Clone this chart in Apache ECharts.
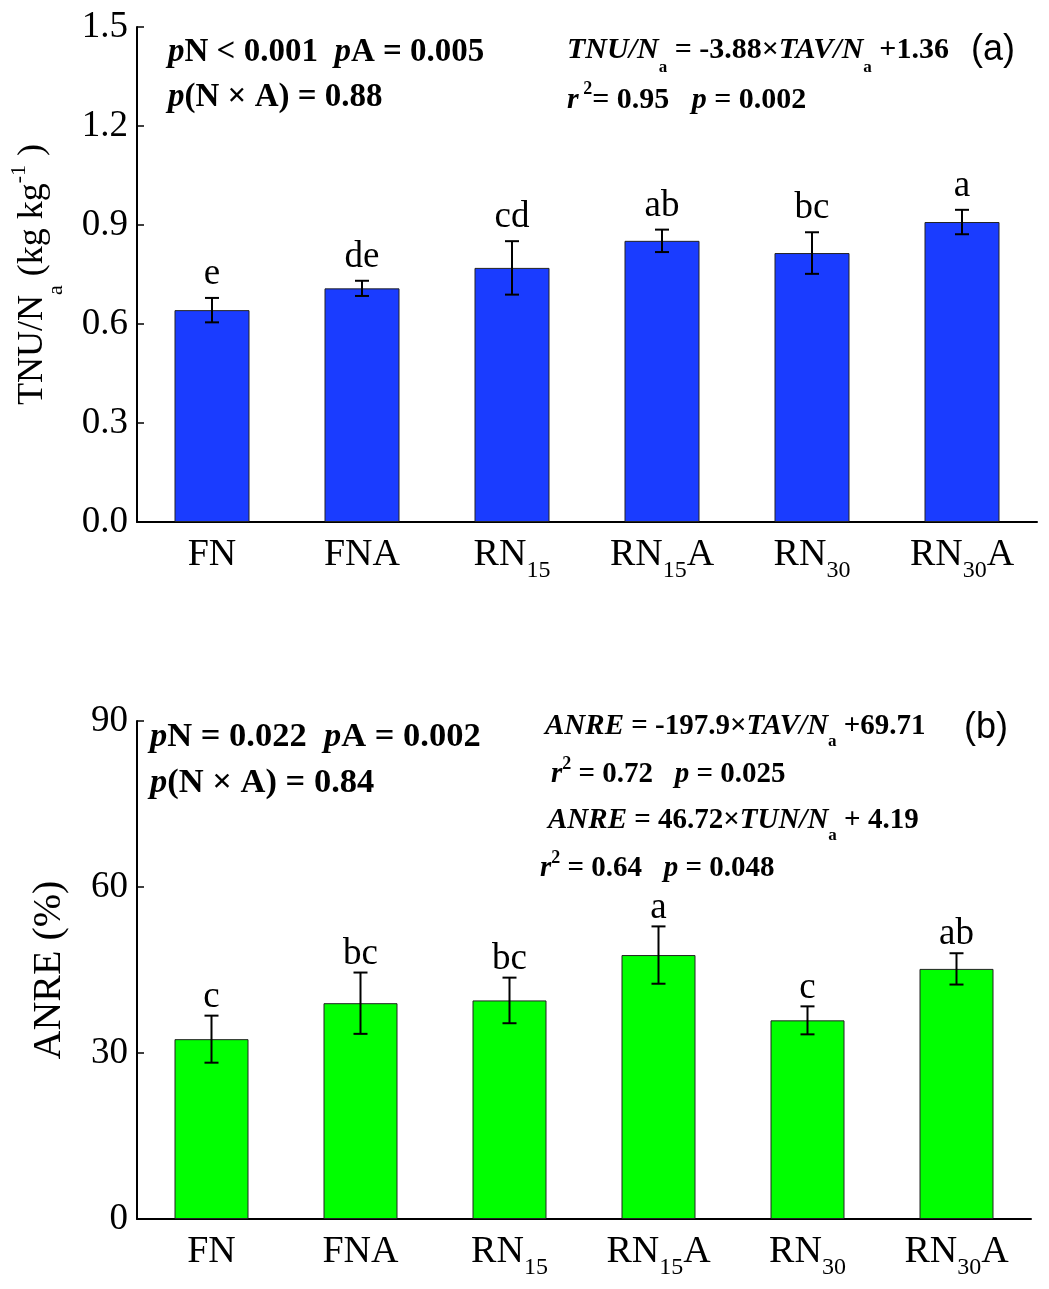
<!DOCTYPE html>
<html>
<head>
<meta charset="utf-8">
<script src="https://cdn.jsdelivr.net/npm/echarts@6/dist/echarts.min.js"></script>
<style>
  html, body { margin: 0; padding: 0; background: #fff; }
  #chart { width: 1049px; height: 1289px; }
</style>
</head>
<body>
<div id="chart"></div>
<script>
// Treatments
const categories = ['FN', 'FNA', 'RN15', 'RN15A', 'RN30', 'RN30A'];

// (a) TNU/Na, kg kg-1: means, standard errors, significance letters
const tnuMean = [0.642, 0.708, 0.770, 0.852, 0.815, 0.909];
const tnuErr = [0.037, 0.023, 0.081, 0.034, 0.063, 0.037];
const tnuLetters = ['e', 'de', 'cd', 'ab', 'bc', 'a'];

// (b) ANRE, %: means, standard errors, significance letters
const anreMean = [32.5, 39.0, 39.5, 47.7, 35.9, 45.2];
const anreErr = [4.25, 5.54, 4.12, 5.18, 2.53, 2.83];
const anreLetters = ['c', 'bc', 'bc', 'a', 'c', 'ab'];

// Axis ranges
const tnuTicks = { min: 0, max: 1.5, interval: 0.3 };
const anreTicks = { min: 0, max: 90, interval: 30 };

const SERIF = '"Liberation Serif", "Times New Roman", serif';
const SANS = '"Liberation Sans", Arial, sans-serif';

// Rich-text styles: every token is top-aligned, and the top padding of a token
// sets where its text centre sits, which gives sub- and superscripts.
function richSet(fs, T, weight, subFs, subOff, supFs, supOff) {
  const c = T + fs / 2;
  const base = { fontFamily: SERIF, fontWeight: weight, color: '#000', fill: '#000', verticalAlign: 'top' };
  return {
    b: Object.assign({}, base, { fontSize: fs, height: fs, padding: [T, 0, 0, 0] }),
    m: Object.assign({}, base, { fontSize: fs, height: fs, padding: [T, 0, 0, 0] }),
    bi: Object.assign({}, base, { fontSize: fs, height: fs, fontStyle: 'italic', padding: [T, 0, 0, 0] }),
    sub: Object.assign({}, base, { fontSize: subFs, height: subFs, padding: [c + subOff - subFs / 2, 0, 0, 0] }),
    sup: Object.assign({}, base, { fontSize: supFs, height: supFs, padding: [Math.max(0, c - supOff - supFs / 2), 0, 0, 0] })
  };
}

// Category names with subscripted rates, e.g. RN15A -> RN{15}A
function catLabel(name) {
  const parts = name.match(/^([A-Z]+?)(\d+)?(A)?$/);
  if (!parts || !parts[2]) return '{m|' + name + '}';
  return '{m|' + parts[1] + '}{sub|' + parts[2] + '}' + (parts[3] ? '{m|' + parts[3] + '}' : '');
}

const catRich = richSet(38, 0, 'normal', 24, 16, 20, 10);
const titleRich = richSet(36, 7, 'normal', 22, 23, 22, 13.5);

function note(x, yc, text, rich, fs, T) {
  return {
    type: 'text', x: x, y: yc - (T + fs / 2), silent: true,
    style: { text: text, rich: rich, align: 'left', verticalAlign: 'top', fill: '#000' }
  };
}
function plain(x, yc, text, fs, family) {
  return {
    type: 'text', x: x, y: yc, silent: true,
    style: { text: text, fontSize: fs, fontFamily: family, fill: '#000', align: 'left', verticalAlign: 'middle' }
  };
}

const leftTopRich = richSet(33, 0, 'bold', 18, 18, 18, 11);
const rightTopRich = richSet(30, 8, 'bold', 17, 18, 18, 11);
const leftBotRich = richSet(34.5, 0, 'bold', 18, 16, 18, 11);
const rightBotRich = richSet(29, 8, 'bold', 17, 15, 18, 11);

function xAxisCfg(gridIndex) {
  return {
    type: 'category', gridIndex: gridIndex, data: categories,
    axisLine: { show: true, onZero: false, lineStyle: { color: '#000', width: 2 } },
    axisTick: { show: false },
    splitLine: { show: false },
    axisLabel: { margin: 14, interval: 0, formatter: catLabel, rich: catRich }
  };
}
function yAxisCfg(gridIndex, ticks, decimals, name, nameGap, nameStyle) {
  return {
    type: 'value', gridIndex: gridIndex,
    min: ticks.min, max: ticks.max, interval: ticks.interval,
    axisLine: { show: true, lineStyle: { color: '#000', width: 2 } },
    axisTick: { show: true, inside: true, length: 7, lineStyle: { color: '#000', width: 1.5 } },
    splitLine: { show: false },
    axisLabel: {
      margin: 9, color: '#000', fontSize: 37, fontFamily: SERIF,
      formatter: v => v.toFixed(decimals)
    },
    name: name, nameLocation: 'middle', nameRotate: 90, nameGap: nameGap,
    nameTextStyle: nameStyle
  };
}

// Error bars with the letter of each mean above the bar
function errorSeries(gridIndex, mean, err, letters, gap, fs) {
  return {
    type: 'custom', xAxisIndex: gridIndex, yAxisIndex: gridIndex, z: 5, clip: false,
    data: mean.map((v, i) => [i, v, err[i]]),
    encode: { x: 0, y: 1 },
    renderItem: function (params, api) {
      const i = api.value(0), m = api.value(1), e = api.value(2);
      const top = api.coord([i, m + e]);
      const bot = api.coord([i, m - e]);
      const x = top[0], cap = 7;
      const ls = { stroke: '#000', lineWidth: 2 };
      return {
        type: 'group',
        children: [
          { type: 'line', shape: { x1: x, y1: top[1], x2: x, y2: bot[1] }, style: ls },
          { type: 'line', shape: { x1: x - cap, y1: top[1], x2: x + cap, y2: top[1] }, style: ls },
          { type: 'line', shape: { x1: x - cap, y1: bot[1], x2: x + cap, y2: bot[1] }, style: ls },
          {
            type: 'text', x: x, y: top[1] - gap,
            style: {
              text: letters[params.dataIndex], fontSize: fs, fontFamily: SERIF,
              fill: '#000', align: 'center', verticalAlign: 'bottom'
            }
          }
        ]
      };
    }
  };
}

const chart = echarts.init(document.getElementById('chart'), null, { renderer: 'canvas' });
chart.setOption({
  animation: false,
  backgroundColor: '#fff',
  grid: [
    { left: 137, top: 27, width: 900, height: 495 },
    { left: 137, top: 721, width: 894, height: 498 }
  ],
  xAxis: [xAxisCfg(0), xAxisCfg(1)],
  yAxis: [
    yAxisCfg(0, tnuTicks, 1, '{m|TNU/N}{sub|a}{m| (kg kg}{sup|-1}{m| )}', 70, { rich: titleRich }),
    yAxisCfg(1, anreTicks, 0, 'ANRE (%)', 68, { fontSize: 40, fontFamily: SERIF, color: '#000' })
  ],
  series: [
    {
      type: 'bar', xAxisIndex: 0, yAxisIndex: 0, data: tnuMean, barWidth: 75,
      itemStyle: { color: '#1a3cff', borderColor: '#222', borderWidth: 1 }
    },
    errorSeries(0, tnuMean, tnuErr, tnuLetters, 5, 37),
    {
      type: 'bar', xAxisIndex: 1, yAxisIndex: 1, data: anreMean, barWidth: 74,
      itemStyle: { color: '#00ff00', borderColor: '#222', borderWidth: 1 }
    },
    errorSeries(1, anreMean, anreErr, anreLetters, 0, 37)
  ],
  graphic: [
    // (a) two-way ANOVA and regression
    note(168, 52, '{bi|p}{b|N < 0.001  }{bi|p}{b|A = 0.005}', leftTopRich, 33, 0),
    note(168, 97, '{bi|p}{b|(N × A) = 0.88}', leftTopRich, 33, 0),
    note(567, 50, '{bi|TNU/N}{sub|a}{b| = -3.88×}{bi|TAV/N}{sub|a}{b| +1.36}', rightTopRich, 30, 8),
    note(567, 100, '{bi|r}{sup| 2}{b|= 0.95   }{bi|p}{b| = 0.002}', rightTopRich, 30, 8),
    plain(971, 50, '(a)', 36, SANS),
    // (b) two-way ANOVA and regressions
    note(150, 737, '{bi|p}{b|N = 0.022  }{bi|p}{b|A = 0.002}', leftBotRich, 34.5, 0),
    note(150, 783, '{bi|p}{b|(N × A) = 0.84}', leftBotRich, 34.5, 0),
    note(545, 727, '{bi|ANRE}{b| = -197.9×}{bi|TAV/N}{sub|a}{b| +69.71}', rightBotRich, 29, 8),
    note(551, 775, '{bi|r}{sup|2}{b| = 0.72   }{bi|p}{b| = 0.025}', rightBotRich, 29, 8),
    note(548, 821, '{bi|ANRE}{b| = 46.72×}{bi|TUN/N}{sub|a}{b| + 4.19}', rightBotRich, 29, 8),
    note(540, 869, '{bi|r}{sup|2}{b| = 0.64   }{bi|p}{b| = 0.048}', rightBotRich, 29, 8),
    plain(964, 728, '(b)', 36, SANS)
  ]
});
</script>
</body>
</html>
